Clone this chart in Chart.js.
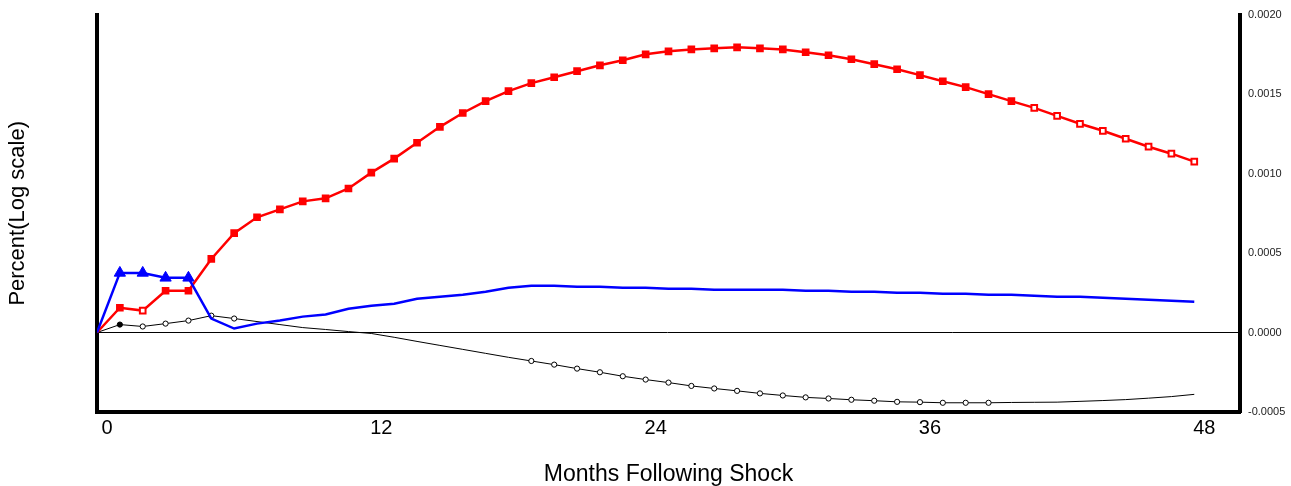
<!DOCTYPE html>
<html>
<head>
<meta charset="utf-8">
<script src="https://cdn.jsdelivr.net/npm/chart.js@4.4.1/dist/chart.umd.min.js"></script>
<style>
  body { margin: 0; background: #fff; }
  #wrap { width: 1291px; height: 486px; }
</style>
</head>
<body>
<div id="wrap"><canvas id="myChart"></canvas></div>
<script>
// months after the shock
const months = [0,1,2,3,4,5,6,7,8,9,10,11,12,13,14,15,16,17,18,19,20,21,22,23,24,
  25,26,27,28,29,30,31,32,33,34,35,36,37,38,39,40,41,42,43,44,45,46,47,48];

const xTicks = [0, 12, 24, 36, 48];
const yTicks = [-0.0005, 0, 0.0005, 0.0010, 0.0015, 0.0020];

const redVals = [0, 0.000156, 0.000138, 0.000263, 0.000263, 0.000463, 0.000625, 0.000725,
  0.000775, 0.000825, 0.000844, 0.000906, 0.001006, 0.001094, 0.001194, 0.001294, 0.001381,
  0.001456, 0.001519, 0.001569, 0.001606, 0.001644, 0.001681, 0.001713, 0.00175, 0.001769,
  0.001781, 0.001788, 0.001794, 0.001788, 0.001781, 0.001763, 0.001744, 0.001719, 0.001688,
  0.001656, 0.001619, 0.001581, 0.001544, 0.0015, 0.001456, 0.001413, 0.001363, 0.001313,
  0.001269, 0.001219, 0.001169, 0.001125, 0.001075];

const blueVals = [0, 0.000375, 0.000375, 0.000344, 0.000344, 0.000088, 0.000025, 0.000056,
  0.000075, 0.0001, 0.000113, 0.00015, 0.000169, 0.000181, 0.000213, 0.000225, 0.000238,
  0.000256, 0.000281, 0.000294, 0.000294, 0.000288, 0.000288, 0.000281, 0.000281, 0.000275,
  0.000275, 0.000269, 0.000269, 0.000269, 0.000269, 0.000263, 0.000263, 0.000256, 0.000256,
  0.00025, 0.00025, 0.000244, 0.000244, 0.000238, 0.000238, 0.000231, 0.000225, 0.000225,
  0.000219, 0.000213, 0.000206, 0.0002, 0.000194];

const blackVals = [0, 0.00005, 0.000038, 0.000056, 0.000075, 0.000106, 0.000088, 0.000069,
  0.00005, 0.000031, 0.000019, 0.000006, -0.000006, -0.00003, -0.000056, -0.000081, -0.000106,
  -0.000131, -0.000156, -0.000179, -0.000202, -0.000227, -0.00025, -0.000275, -0.000296,
  -0.000315, -0.000336, -0.000352, -0.000367, -0.000383, -0.000396, -0.000408, -0.000415,
  -0.000423, -0.000429, -0.000436, -0.000438, -0.000442, -0.000442, -0.000442, -0.00044,
  -0.000439, -0.000438, -0.000433, -0.000428, -0.000422, -0.000413, -0.000403, -0.000389];

const pts = vals => months.map((m, i) => ({ x: m, y: vals[i] }));

// marker styles per month
const redFill = months.map(m => (m === 2 || m > 40) ? '#fff' : '#ff0000');
const redRadius = months.map(m => m === 0 ? 0 : 4);
const blueRadius = months.map(m => (m >= 1 && m <= 4) ? 6.5 : 0);
const blackRadius = months.map(m => ((m >= 1 && m <= 6) || (m >= 19 && m <= 39)) ? 2.6 : 0);
const blackFill = months.map(m => m === 1 ? '#000' : '#fff');

const ctx = document.getElementById('myChart').getContext('2d');
Chart.defaults.font.family = '"Liberation Sans", Arial, sans-serif';
Chart.defaults.color = '#000';

new Chart(ctx, {
  type: 'line',
  data: {
    datasets: [
      {
        data: pts(blueVals), borderColor: '#0000ff', borderWidth: 2.5,
        pointStyle: 'triangle', pointRadius: blueRadius, pointBackgroundColor: '#0000ff',
        pointBorderColor: '#0000ff', pointBorderWidth: 1, tension: 0
      },
      {
        data: pts(redVals), borderColor: '#ff0000', borderWidth: 2.5,
        pointStyle: 'rect', pointRadius: redRadius, pointBackgroundColor: redFill,
        pointBorderColor: '#ff0000', pointBorderWidth: 2, tension: 0
      },
      {
        data: pts(blackVals), borderColor: '#000', borderWidth: 1,
        pointStyle: 'circle', pointRadius: blackRadius, pointBackgroundColor: blackFill,
        pointBorderColor: '#000', pointBorderWidth: 1, tension: 0
      }
    ]
  },
  options: {
    responsive: true,
    maintainAspectRatio: false,
    animation: false,
    layout: { padding: { top: 10, left: 0, right: 0, bottom: 0 } },
    plugins: { legend: { display: false }, tooltip: { enabled: false } },
    scales: {
      x: {
        type: 'linear', min: 0, max: 50,
        grid: { display: false },
        border: { display: true, color: '#000', width: 4 },
        afterBuildTicks: s => { s.ticks = xTicks.map(v => ({ value: v })); },
        afterFit: s => { s.height = 74; },
        ticks: { font: { size: 20 }, padding: -4, labelOffset: 10, maxRotation: 0 },
        title: { display: true, text: 'Months Following Shock', font: { size: 23, lineHeight: 1 }, padding: { top: 10, bottom: 0 } }
      },
      y: {
        position: 'left', min: -0.0005, max: 0.002,
        grid: { display: false },
        border: { display: true, color: '#000', width: 4 },
        ticks: { display: false },
        afterFit: s => { s.width = 97; },
        title: { display: true, text: 'Percent(Log scale)', font: { size: 22 }, padding: { top: 5, bottom: 0 } }
      },
      y2: {
        position: 'right', min: -0.0005, max: 0.002,
        afterBuildTicks: s => { s.ticks = yTicks.map(v => ({ value: v })); },
        grid: {
          drawTicks: false, drawOnChartArea: true, lineWidth: 1,
          color: c => c.tick && c.tick.value === 0 ? '#000' : 'rgba(0,0,0,0)'
        },
        border: { display: true, color: '#000', width: 4 },
        afterFit: s => { s.width = 51; },
        ticks: { font: { size: 11 }, color: '#222', padding: 8, callback: v => v.toFixed(4) }
      }
    }
  }
});
</script>
</body>
</html>
